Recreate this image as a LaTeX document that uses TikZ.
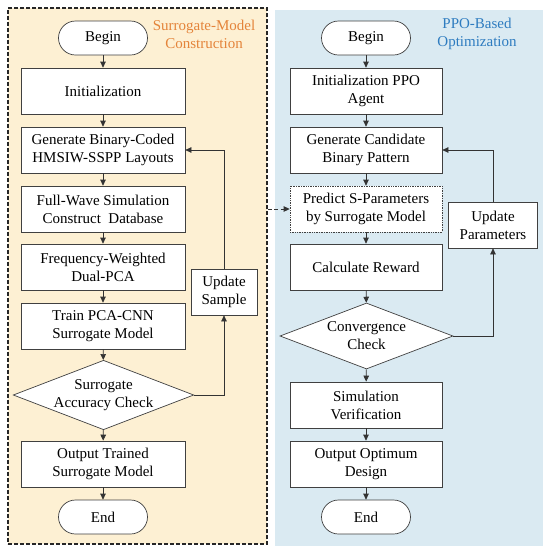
\documentclass[tikz,border=0pt]{standalone}
\usepackage{fontspec}
\setmainfont{Liberation Serif}
\usetikzlibrary{shapes.geometric, arrows.meta}

\definecolor{panelorange}{HTML}{FDF0D3}
\definecolor{panelblue}{HTML}{DAEAF2}
\definecolor{titleorange}{HTML}{E4843A}
\definecolor{titleblue}{HTML}{2E7CC0}

\begin{document}
\begin{tikzpicture}[x=1pt, y=-1pt,
    panel/.style={rectangle, minimum width=#1, minimum height=536pt, inner sep=0pt},
    proc/.style={rectangle, draw=black!75, fill=white, line width=0.7pt, minimum width=#1, minimum height=46pt, align=center, font=\fontsize{15}{18}\selectfont, inner sep=2pt},
    term/.style={rectangle, draw=black!75, fill=white, line width=0.7pt, rounded corners=17pt, minimum width=89pt, minimum height=34pt, font=\fontsize{15}{18}\selectfont},
    check/.style={diamond, draw=black!75, fill=white, line width=0.7pt, aspect=2.6, minimum width=173pt, minimum height=66pt, inner sep=0pt, align=center, font=\fontsize{15}{18}\selectfont},
    ttl/.style={align=center, font=\fontsize{15}{18}\selectfont},
    arrow/.style={-{Triangle[length=6pt, width=5.5pt]}, draw=black!80, line width=0.7pt}
]
\useasboundingbox (0,0) rectangle (550,555);

% Panels
\node[panel=259pt, fill=panelorange, draw=black!85, dash pattern=on 4pt off 2pt, line width=1.1pt] (leftpanel) at (137.5, 276) {};
\node[panel=268pt, fill=panelblue] (rightpanel) at (409, 278) {};

\node[ttl, text=titleorange] (lefttitle) at (204, 34) {Surrogate-Model\\Construction};
\node[ttl, text=titleblue] (righttitle) at (477, 34) {PPO-Based\\Optimization};

% Left column (x = 103)
\node[term] (begin1) at (103, 38) {Begin};
\node[proc=164pt] (init1) at (103, 91) {Initialization};
\node[proc=164pt] (gen1) at (103, 150) {Generate Binary-Coded\\HMSIW-SSPP Layouts};
\node[proc=164pt] (sim1) at (103, 209) {Full-Wave Simulation\\Construct~~Database};
\node[proc=164pt] (pca1) at (103, 267) {Frequency-Weighted\\Dual-PCA};
\node[proc=164pt] (train1) at (103, 326) {Train PCA-CNN\\Surrogate Model};
\node[check] (check1) at (103.5, 395) {Surrogate\\Accuracy Check};
\node[proc=164pt] (out1) at (103, 464) {Output Trained\\Surrogate Model};
\node[term] (end1) at (103, 517) {End};
\node[proc=66pt] (upsample) at (224, 292) {Update\\Sample};

% Right column (x = 366)
\node[term] (begin2) at (366, 38) {Begin};
\node[proc=152pt] (init2) at (366, 91) {Initialization PPO\\Agent};
\node[proc=152pt] (gen2) at (366, 150) {Generate Candidate\\Binary Pattern};
\node[proc=152pt, densely dotted] (predict) at (366, 209) {Predict S-Parameters\\by Surrogate Model};
\node[proc=152pt] (reward) at (366, 267) {Calculate Reward};
\node[check] (check2) at (366.5, 336) {Convergence\\Check};
\node[proc=152pt] (verify) at (366, 405) {Simulation\\Verification};
\node[proc=152pt] (out2) at (366, 464) {Output Optimum\\Design};
\node[term] (end2) at (366, 517) {End};
\node[proc=89pt] (uppar) at (493, 225) {Update\\Parameters};

% Left flow
\draw[arrow] (begin1) -- (init1);
\draw[arrow] (init1) -- (gen1);
\draw[arrow] (gen1) -- (sim1);
\draw[arrow] (sim1) -- (pca1);
\draw[arrow] (pca1) -- (train1);
\draw[arrow] (train1) -- (check1);
\draw[arrow] (check1) -- (out1);
\draw[arrow] (out1) -- (end1);
\draw[arrow] (check1.east) -| (upsample.south);
\draw[arrow] (upsample.north) |- (gen1.east);

% Right flow
\draw[arrow] (begin2) -- (init2);
\draw[arrow] (init2) -- (gen2);
\draw[arrow] (gen2) -- (predict);
\draw[arrow] (predict) -- (reward);
\draw[arrow] (reward) -- (check2);
\draw[arrow] (check2) -- (verify);
\draw[arrow] (verify) -- (out2);
\draw[arrow] (out2) -- (end2);
\draw[arrow] (check2.east) -| (uppar.south);
\draw[arrow] (uppar.north) |- (gen2.east);

% Surrogate model handed over
\draw[arrow, line width=1pt, dash pattern=on 4pt off 2.5pt] (leftpanel.east |- predict.west) -- (predict.west);

\end{tikzpicture}
\end{document}
